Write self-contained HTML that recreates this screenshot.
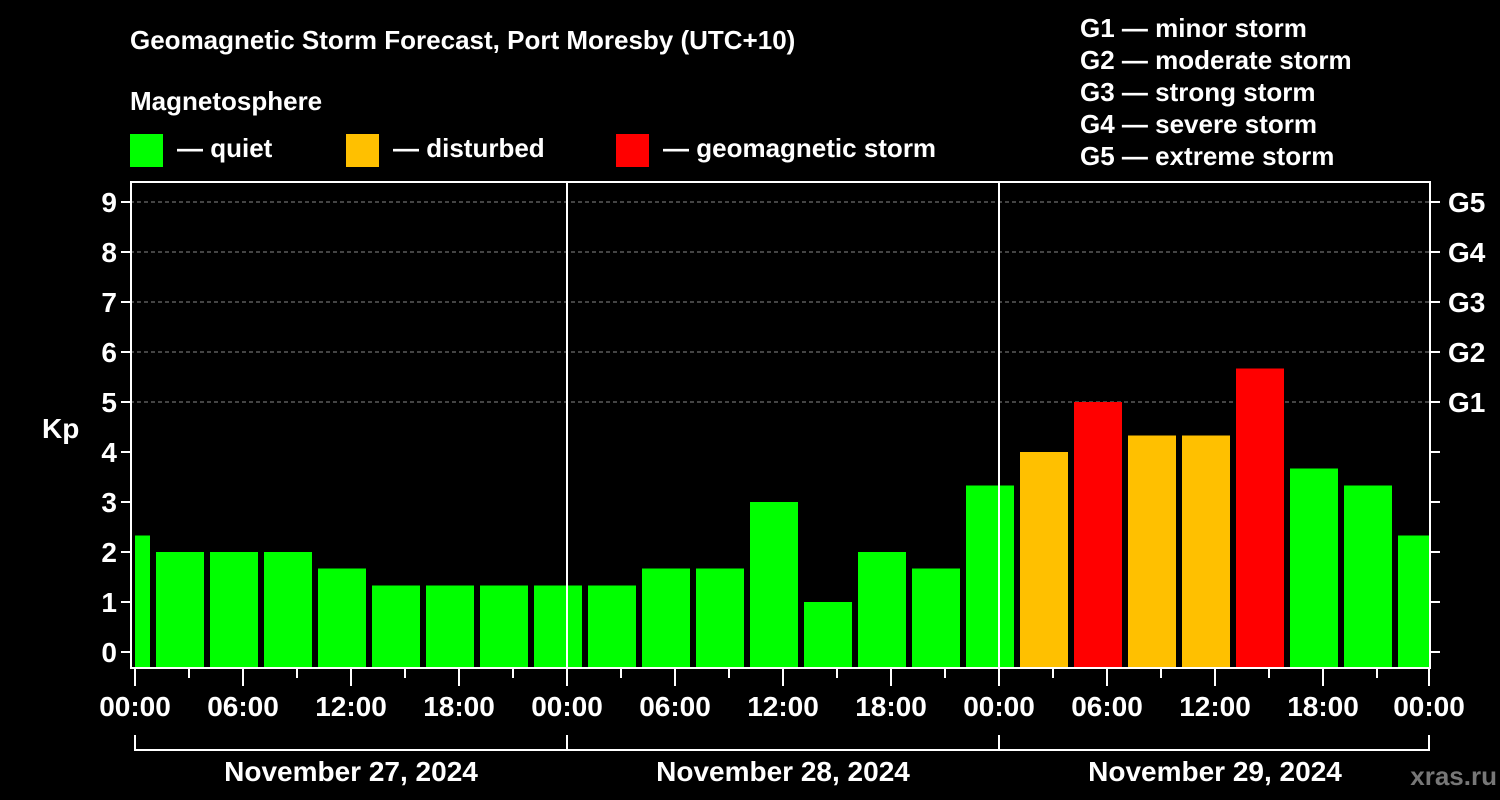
<!DOCTYPE html>
<html><head><meta charset="utf-8"><style>
body{margin:0;background:#000;}
svg{display:block;font-family:"Liberation Sans",Arial,sans-serif;font-weight:bold;}
</style></head><body>
<svg id="chart" width="1500" height="800" viewBox="0 0 1500 800">
<rect width="1500" height="800" fill="#000"/>
<text x="130" y="49" fill="#fff" font-size="26">Geomagnetic Storm Forecast, Port Moresby (UTC+10)</text>
<text x="130" y="110" fill="#fff" font-size="26">Magnetosphere</text>
<g><rect x="130" y="134" width="33" height="33" fill="#00ff00"/><text x="177" y="157" fill="#fff" font-size="26">— quiet</text></g>
<g><rect x="346" y="134" width="33" height="33" fill="#ffc000"/><text x="393" y="157" fill="#fff" font-size="26">— disturbed</text></g>
<g><rect x="616" y="134" width="33" height="33" fill="#ff0000"/><text x="663" y="157" fill="#fff" font-size="26">— geomagnetic storm</text></g>
<g fill="#fff" font-size="26">
<text x="1080" y="37">G1 — minor storm</text>
<text x="1080" y="69">G2 — moderate storm</text>
<text x="1080" y="101">G3 — strong storm</text>
<text x="1080" y="133">G4 — severe storm</text>
<text x="1080" y="165">G5 — extreme storm</text>
</g>
<text x="42" y="438" fill="#fff" font-size="28">Kp</text>
<text x="1497" y="785" fill="#777" font-size="26" text-anchor="end">xras.ru</text>
<g id="grid"></g><g id="bars"></g><g id="axes"></g>
</svg>
<script>
const kpValues=[2.33,2,2,2,1.67,1.33,1.33,1.33,1.33,1.33,1.67,1.67,3,1,2,1.67,3.33,4,5,4.33,4.33,5.67,3.67,3.33,2.33];
const yTicks=[0,1,2,3,4,5,6,7,8,9];
const gLabels=["G1","G2","G3","G4","G5"];
const xTickLabels=["00:00","06:00","12:00","18:00","00:00","06:00","12:00","18:00","00:00","06:00","12:00","18:00","00:00"];
const dateLabels=["November 27, 2024","November 28, 2024","November 29, 2024"];
const NS="http://www.w3.org/2000/svg";
const L=130,R=1430,T=182,B=668,X0=135,PXH=18;
const y=v=>652-50*v;
const x=h=>X0+h*PXH;
function mk(tag,attrs,parent,txt){const e=document.createElementNS(NS,tag);for(const k in attrs)e.setAttribute(k,attrs[k]);if(txt!=null)e.textContent=txt;document.getElementById(parent).appendChild(e);return e;}
// grid
for(let v=5;v<=9;v++){const e=mk('line',{x1:L,x2:R,y1:y(v),y2:y(v),stroke:'#888','stroke-dasharray':'4,3','stroke-width':1},'grid');

}
// bars
kpValues.forEach((v,i)=>{let s=x(-2+3*i)+3,e2=x(1+3*i)-3;s=Math.max(s,X0);e2=Math.min(e2,R);
const c=v>=5?'#ff0000':(v>=4?'#ffc000':'#00ff00');
const r=mk('rect',{x:s,y:y(v),width:e2-s,height:B-y(v),fill:c},'bars');

});
// day separators
[24,48].forEach(h=>{const e=mk('line',{x1:x(h),x2:x(h),y1:T,y2:B,stroke:'#fff','stroke-width':2},'axes');

});
const fr=mk('rect',{x:L+1,y:T,width:R-L-1,height:B-T,fill:'none',stroke:'#fff','stroke-width':2},'axes');


yTicks.forEach(v=>{mk('line',{x1:121,x2:L,y1:y(v),y2:y(v),stroke:'#fff','stroke-width':2},'axes');
mk('line',{x1:R,x2:1440,y1:y(v),y2:y(v),stroke:'#fff','stroke-width':2},'axes');
const t=mk('text',{x:117,y:y(v)+10,fill:'#fff','font-size':28,'text-anchor':'end'},'axes',String(v));

});
gLabels.forEach((g,i)=>{const t=mk('text',{x:1448,y:y(5+i)+10,fill:'#fff','font-size':28},'axes',g);

});
for(let h=0;h<=72;h+=3){const xx=Math.min(x(h),R-1);mk('line',{x1:xx,x2:xx,y1:B,y2:h%6?678:686,stroke:'#fff','stroke-width':2},'axes');}
xTickLabels.forEach((s,i)=>{const t=mk('text',{x:Math.min(x(6*i),R-1),y:716,fill:'#fff','font-size':28,'text-anchor':'middle'},'axes',s);

});
mk('line',{x1:X0,x2:R-1,y1:750,y2:750,stroke:'#fff','stroke-width':2},'axes');
[0,24,48,72].forEach(h=>{const xx=Math.min(x(h),R-1);mk('line',{x1:xx,x2:xx,y1:735,y2:751,stroke:'#fff','stroke-width':2},'axes');});
dateLabels.forEach((d,i)=>{const t=mk('text',{x:x(24*i+12),y:781,fill:'#fff','font-size':28,'text-anchor':'middle'},'axes',d);

});
</script>
</body></html>
